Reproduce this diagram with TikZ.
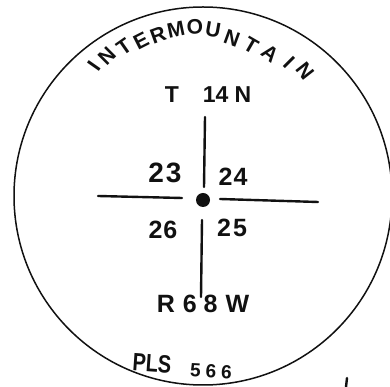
\documentclass[tikz,border=0pt]{standalone}
\usepackage{fontspec}
\setmainfont{Liberation Sans}
\usetikzlibrary{positioning, calc}
\definecolor{ink}{HTML}{111111}

\begin{document}
\begin{tikzpicture}[
  x=1pt, y=1pt,
  ring/.style={draw=ink, line width=1.5pt},
  arm/.style={draw=ink, line width=2.4pt, line cap=round},
  hand/.style={font=\fontsize{#1}{#1}\selectfont\bfseries, text=ink, inner sep=0pt},
  hand/.default=24,
]

% Frame
\useasboundingbox (0,0) rectangle (390,387);
\fill[white] (0,0) rectangle (390,387);

% =============================================
% Outer circle
% =============================================
\coordinate (mid) at (203,191);
\draw[ring] (mid) circle (189);

% =============================================
% Lettering along the top
% =============================================
\foreach \ch/\x/\y/\r [count=\i] in {I/94/321/55, N/107/331/45, T/124/340/35,
    E/141/346/27, R/158/352/20, M/176/357/12, O/195/360/3, U/213/357/-10,
    N/232/349/-20, T/251/342/-30, A/270/334/-38, I/289/325/-45, N/305/316/-52}
  \node[hand=21, rotate=\r] (ltr\i) at (\x,\y) {\ch};

% =============================================
% Township / range
% =============================================
\node[hand=23] (twp) at (208,292) {T\hspace{24pt}14\hspace{6pt}N};
\node[hand=25] (rng) at (203,83) {R\hspace{8pt}6\hspace{7pt}8\hspace{8pt}W};

% =============================================
% Section corner
% =============================================
\node[circle, fill=ink, minimum size=14pt, inner sep=0pt] (dot) at (203,187) {};

\coordinate (n1) at (205,270); \coordinate (n2) at (204,200);
\coordinate (s1) at (202,167); \coordinate (s2) at (201,90);
\coordinate (w1) at (98,191);  \coordinate (w2) at (182,189);
\coordinate (e1) at (220,188); \coordinate (e2) at (318,185);

\draw[arm] (n1) -- (n2);
\draw[arm] (s1) -- (s2);
\draw[arm] (w1) -- (w2);
\draw[arm] (e1) -- (e2);

% Section numbers
\node[hand=28] (sec23) at (165,214) {2\hspace{2pt}3};
\node[hand=25] (sec24) at (233,210) {2\hspace{1pt}4};
\node[hand=25] (sec26) at (163,157) {2\hspace{1pt}6};
\node[hand=25] (sec25) at (232,159) {2\hspace{2pt}5};

% =============================================
% Bottom
% =============================================
\node[hand=25, rotate=-4, xscale=.8] (pls) at (152,24) {PLS};
\node[hand=19, rotate=-3] (num) at (211,16) {5\hspace{5pt}6\hspace{5pt}6};

% stray tick
\coordinate (t1) at (347,9); \coordinate (t2) at (346,0);
\draw[arm] (t1) -- (t2);

\end{tikzpicture}
\end{document}
